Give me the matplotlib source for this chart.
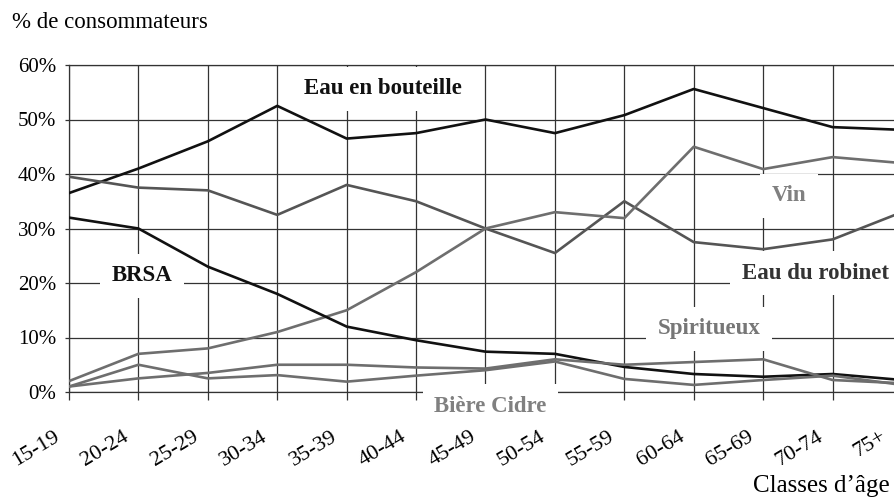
import matplotlib
matplotlib.use("Agg")
import matplotlib.pyplot as plt
from matplotlib.transforms import ScaledTranslation

plt.rcParams['font.family'] = ['Liberation Serif', 'DejaVu Serif']

# classes d'age
ages = ['15-19', '20-24', '25-29', '30-34', '35-39', '40-44', '45-49',
        '50-54', '55-59', '60-64', '65-69', '70-74', '75+']

# % de consommateurs par boisson
eau_bouteille = [36.5, 41, 46, 52.5, 46.5, 47.5, 50, 47.5, 50.8, 55.6, 52.1, 48.6, 48.1]
eau_robinet = [39.5, 37.5, 37, 32.5, 38, 35, 30, 25.5, 35, 27.5, 26.2, 28, 33]
vin = [2, 7, 8, 11, 15, 22, 30, 33, 31.9, 45, 40.9, 43.1, 42]
brsa = [32, 30, 23, 18, 12, 9.5, 7.4, 7, 4.6, 3.3, 2.8, 3.3, 2.2]
spiritueux = [1, 2.5, 3.5, 5, 5, 4.5, 4.3, 6, 5, 5.5, 6, 2.2, 1.6]
biere_cidre = [1, 5, 2.5, 3.1, 1.9, 3, 4, 5.6, 2.4, 1.3, 2.2, 3, 1.3]

fig = plt.figure(figsize=(8.94, 4.99), dpi=100)
ax = fig.add_axes([69/894, 107/499, (902-69)/894, (434-107)/499])

x = range(len(ages))
ax.plot(x, eau_bouteille, color='#111111', lw=1.9, zorder=4)
ax.plot(x, eau_robinet, color='#555555', lw=1.9, zorder=4)
ax.plot(x, vin, color='#6e6e6e', lw=1.9, zorder=4)
ax.plot(x, brsa, color='#111111', lw=1.9, zorder=4)
ax.plot(x, spiritueux, color='#6e6e6e', lw=1.9, zorder=4)
ax.plot(x, biere_cidre, color='#6e6e6e', lw=1.9, zorder=4)

ax.set_xlim(0, 12)
ax.set_ylim(0, 60)
ax.set_yticks(range(0, 61, 10))
ax.set_yticklabels([f'{v}%' for v in range(0, 61, 10)], fontsize=15)
ax.set_xticks(list(x))
ax.set_xticklabels(ages, fontsize=16, rotation=31, ha='right', va='center',
                   rotation_mode='anchor')
ax.tick_params(axis='x', length=6, width=0.9, color='#333333', pad=25)
ax.tick_params(axis='y', length=3, width=0.9, color='#333333', pad=6)
labels = ax.get_xticklabels()
for i, lbl in enumerate(labels):
    dx = -17 if i == len(labels) - 1 else -11
    lbl.set_transform(lbl.get_transform() +
                      ScaledTranslation(dx/100, 0, fig.dpi_scale_trans))

ax.grid(True, color='#333333', lw=0.9)
ax.set_axisbelow(True)
ax.spines['right'].set_visible(False)
for s in ['left', 'top', 'bottom']:
    ax.spines[s].set_color('#333333')
    ax.spines[s].set_linewidth(0.9)
ax.spines['top'].set_zorder(5)

box = dict(facecolor='white', edgecolor='none', boxstyle='square,pad=0.5')
ax.text(4.52, 55.6, 'Eau en bouteille', fontsize=16.5, fontweight='bold',
        color='#111111', ha='center', va='center', bbox=box, zorder=3)
ax.text(1.05, 21.3, 'BRSA', fontsize=16.5, fontweight='bold',
        color='#111111', ha='center', va='center', bbox=box, zorder=3)
ax.text(10.37, 36.0, 'Vin', fontsize=16.5, fontweight='bold',
        color='#808080', ha='center', va='center', bbox=box, zorder=3)
ax.text(10.75, 21.8, 'Eau du robinet', fontsize=16.5, fontweight='bold',
        color='#333333', ha='center', va='center', bbox=box, zorder=3)
ax.text(9.22, 11.6, 'Spiritueux', fontsize=16.5, fontweight='bold',
        color='#777777', ha='center', va='center', bbox=box, zorder=3)
ax.text(6.07, -2.6, 'Bière Cidre', fontsize=16.5, fontweight='bold',
        color='#808080', ha='center', va='center', bbox=box, zorder=3,
        clip_on=False)

fig.text(12/894, 1 - 22/499, '% de consommateurs', fontsize=16.5,
         ha='left', va='center')
fig.text(890/894, 7/499, 'Classes d\u2019âge', fontsize=18,
         ha='right', va='baseline')

fig.savefig('out.png', dpi=100)
